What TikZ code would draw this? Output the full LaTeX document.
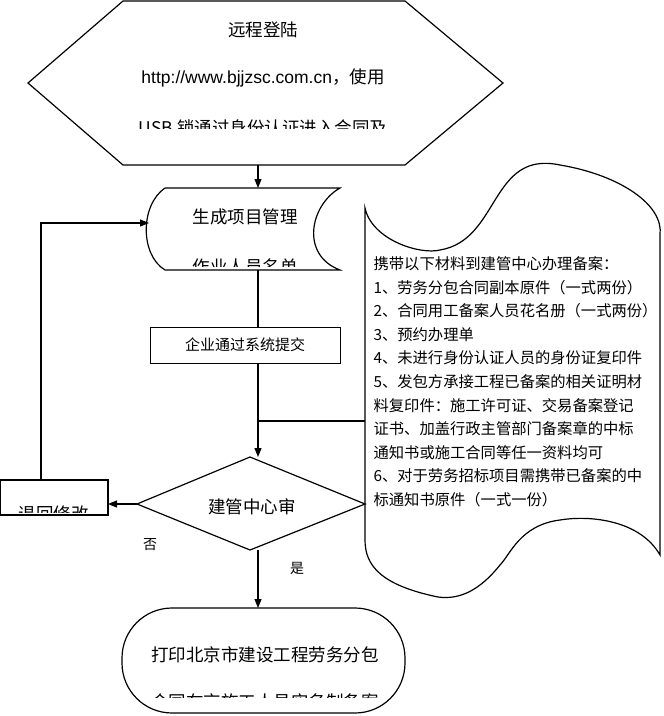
\documentclass[tikz,border=0pt]{standalone}
\usepackage{fontspec}
\setmainfont{Liberation Sans}
\newfontfamily\cjk{Noto Sans CJK SC}
\XeTeXlinebreaklocale "zh"
\XeTeXlinebreakskip=0pt plus 1pt
\usetikzlibrary{positioning,shapes.geometric,arrows.meta}

\begin{document}
\begin{tikzpicture}[
    x=1pt,y=-1pt,
    line width=1.2pt,
    every node/.style={font=\cjk\fontsize{17.5}{20}\selectfont,inner sep=0pt},
    flow/.style={-{Triangle[length=9pt,width=7pt]}},
    notes/.style={font=\cjk\fontsize{15.3}{23.6}\selectfont,align=left,anchor=north west},
    small/.style={font=\cjk\fontsize{14}{16}\selectfont},
  ]
\useasboundingbox (0,0) rectangle (664,716);

% login hexagon
\draw (123,1) -- (405,1) -- (503,83) -- (405,165) -- (123,165) -- (28,83) -- cycle;
\coordinate (login) at (258,165);
\node (login title) at (263,30) {远程登陆};
\node (login url) at (263,78) {\fontspec{Liberation Sans}http://www.bjjzsc.com.cn\cjk，使用};
\begin{scope}
  \clip (100,100) rectangle (430,128);
  \node (login more) at (263,128) {USB 锁通过身份认证进入合同及};
\end{scope}

% project list (stored data)
\draw (165,188) -- (340,188) .. controls (310,205) and (300,255) .. (340,270)
  -- (165,270) .. controls (140,255) and (140,205) .. (165,188);
\coordinate (list top) at (258,188);
\coordinate (list bottom) at (258,270);
\coordinate (list west) at (149,223);
\node (list title) at (245,217) {生成项目管理};
\begin{scope}
  \clip (150,240) rectangle (330,266);
  \node (list more) at (245,267) {作业人员名单};
\end{scope}

% submit box
\node (submit) [draw,line width=0.6pt,minimum width=190pt,minimum height=36pt] at (245,345) {\fontsize{15}{17}\selectfont 企业通过系统提交};

% review diamond
\draw (250,457) -- (365,504) -- (250,550) -- (137,504) -- cycle;
\coordinate (review top) at (258,457);
\coordinate (review west) at (137,504);
\coordinate (review bottom) at (258,550);
\node (review title) at (252,507) {建管中心审};

% return box
\draw (0,480) rectangle (108,515);
\coordinate (return east) at (108,504);
\coordinate (return top) at (41,480);
\begin{scope}
  \clip (0,480) rectangle (108,512);
  \node (return title) at (54,514) {退回修改};
\end{scope}

% print terminal
\draw[rounded corners=50pt] (122,608) rectangle (405,713);
\coordinate (print top) at (258,608);
\node (print title) at (265,655) {打印北京市建设工程劳务分包};
\begin{scope}
  \clip (130,670) rectangle (400,697);
  \node (print more) at (265,702) {合同在京施工人员实名制备案};
\end{scope}

% materials tape
\draw (365,208) .. controls (372,240) and (420,255) .. (440,250)
  .. controls (500,240) and (490,150) .. (560,165)
  .. controls (620,175) and (664,205) .. (660,235)
  -- (660,555) .. controls (640,520) and (590,515) .. (560,520)
  .. controls (520,525) and (510,555) .. (500,565)
  .. controls (480,590) and (460,600) .. (438,597)
  .. controls (380,585) and (365,565) .. (365,540) -- cycle;
\coordinate (tape west) at (365,421);
\node (materials) [notes] at (373,256) {携带以下材料到建管中心办理备案：\\
1、劳务分包合同副本原件（一式两份）\\
2、合同用工备案人员花名册（一式两份）\\
3、预约办理单\\
4、未进行身份认证人员的身份证复印件\\
5、发包方承接工程已备案的相关证明材\\
料复印件：施工许可证、交易备案登记\\
证书、加盖行政主管部门备案章的中标\\
通知书或施工合同等任一资料均可\\
6、对于劳务招标项目需携带已备案的中\\
标通知书原件（一式一份）};

% connectors
\draw[flow] (login) -- (list top);
\draw (list bottom) -- (list bottom |- submit.north);
\draw[flow] (list bottom |- submit.south) -- (review top);
\draw (tape west) -- (tape west -| review top);
\draw[flow] (review west) -- (return east);
\draw[flow] (return top) |- (list west);
\draw[flow] (review bottom) -- (print top);
\node (no label) [small] at (150,545) {否};
\node (yes label) [small] at (297,568) {是};
\end{tikzpicture}
\end{document}
